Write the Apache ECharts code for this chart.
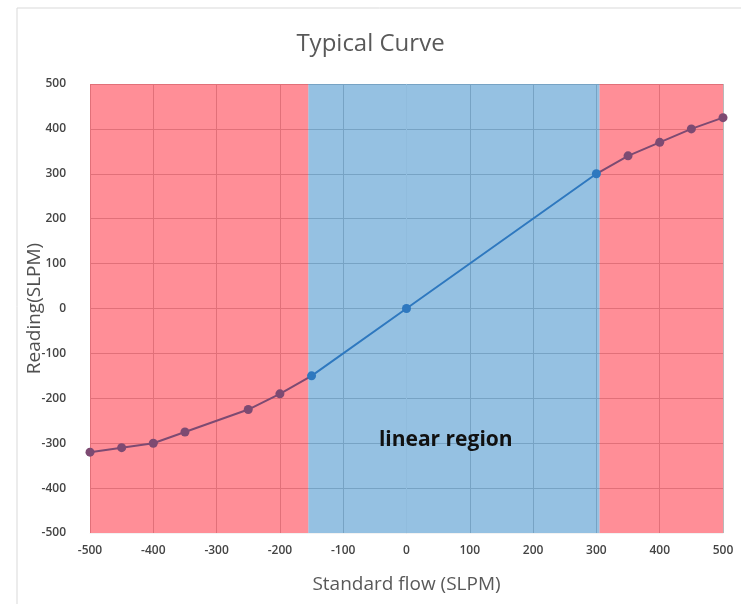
<!DOCTYPE html>
<html><head><meta charset="utf-8">
<script src="https://cdn.jsdelivr.net/npm/echarts@6/dist/echarts.min.js"></script>
<style>html,body{margin:0;padding:0;background:#fff}#c{width:741px;height:604px}</style>
</head><body><div id="c"></div>
<script>
const flow = [-500, -450, -400, -350, -250, -200, -150, 0, 300, 350, 400, 450, 500];
const reading = [-320, -310, -300, -275, -225, -190, -150, 0, 300, 340, 370, 400, 425];
const regionBounds = [-500, -155, 305, 500];
const regionLabel = 'linear region';
const axisTicks = [-500, -400, -300, -200, -100, 0, 100, 200, 300, 400, 500];

const RED = 'rgba(255,60,75,0.58)';
const BLUE = 'rgba(72,148,205,0.58)';
const chart = echarts.init(document.getElementById('c'));
chart.setOption({
  backgroundColor: '#fff',
  animation: false,
  graphic: [{type: 'rect', shape: {x: 17, y: 8, width: 740, height: 620}, style: {fill: 'none', stroke: '#d9d9d9', lineWidth: 1}, silent: true}],
  title: {text: 'Typical Curve', left: 'center', top: 27, textStyle: {fontFamily: 'Open Sans', fontSize: 24, fontWeight: 'normal', color: '#595959'}},
  grid: {left: 90, right: 18, top: 84, bottom: 71},
  xAxis: {
    type: 'value', min: axisTicks[0], max: axisTicks[axisTicks.length - 1], interval: 100,
    name: 'Standard flow (SLPM)', nameLocation: 'middle', nameGap: 42, nameMoveOverlap: false,
    nameTextStyle: {fontFamily: 'Open Sans', fontSize: 19, color: '#595959'},
    axisLine: {show: true, onZero: false, lineStyle: {color: '#f2f2f2'}}, axisTick: {show: false},
    axisLabel: {fontFamily: 'Open Sans', fontSize: 12, fontWeight: 600, color: '#444', margin: 12},
    splitLine: {show: true, lineStyle: {color: '#b8b8b8'}}
  },
  yAxis: {
    type: 'value', min: axisTicks[0], max: axisTicks[axisTicks.length - 1], interval: 100,
    name: 'Reading(SLPM)', nameLocation: 'middle', nameGap: 46, nameRotate: 90, nameMoveOverlap: false,
    nameTextStyle: {fontFamily: 'Open Sans', fontSize: 19, color: '#505050'},
    axisLine: {show: true, lineStyle: {color: '#f2f2f2'}}, axisTick: {show: false},
    axisLabel: {fontFamily: 'Open Sans', fontSize: 12, fontWeight: 600, color: '#444', margin: 24},
    splitLine: {show: true, lineStyle: {color: '#b8b8b8'}}
  },
  visualMap: {
    show: false, type: 'piecewise', dimension: 0, seriesIndex: 0,
    pieces: [
      {lt: regionBounds[1] + 1, color: '#7d4a72'},
      {gte: regionBounds[1] + 1, lte: regionBounds[2] - 1, color: '#2e78bf'},
      {gt: regionBounds[2] - 1, color: '#7d4a72'}
    ]
  },
  series: [{
    type: 'line', z: 1,
    data: flow.map((x, i) => [x, reading[i]]),
    symbol: 'circle', symbolSize: 9,
    lineStyle: {width: 2},
    markArea: {
      silent: true,
      data: [
        [{xAxis: regionBounds[0], itemStyle: {color: RED}}, {xAxis: regionBounds[1]}],
        [{xAxis: regionBounds[1], itemStyle: {color: BLUE}}, {xAxis: regionBounds[2]}],
        [{xAxis: regionBounds[2], itemStyle: {color: RED}}, {xAxis: regionBounds[3]}]
      ]
    }
  }, {
    type: 'scatter', z: 5, data: [], silent: true,
    markPoint: {
      symbol: 'circle', symbolSize: 0,
      label: {show: true, formatter: regionLabel, fontFamily: 'Open Sans', fontSize: 21, fontWeight: 'bold', color: '#111', position: 'inside'},
      data: [{coord: [62, -292]}]
    }
  }]
});
</script></body></html>
